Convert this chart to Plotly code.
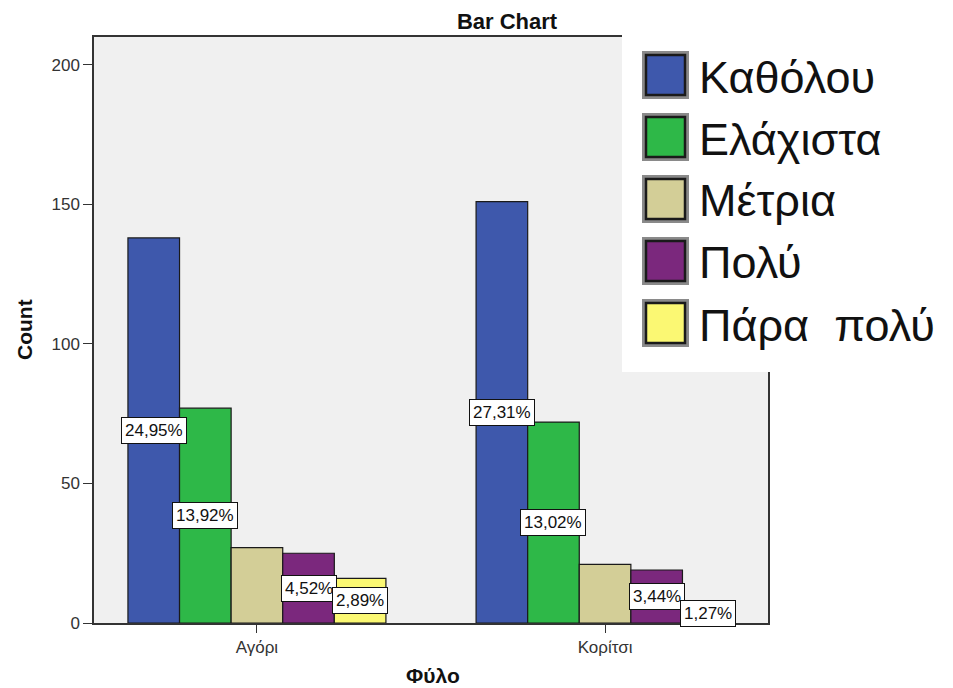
import plotly.graph_objects as go

# ---- data ----
categories = ["Αγόρι", "Κορίτσι"]
series_names = ["Καθόλου", "Ελάχιστα", "Μέτρια", "Πολύ", "Πάρα  πολύ"]
values_katholou = [138, 151]
values_elaxista = [77, 72]
values_metria = [27, 21]
values_poly = [25, 19]
values_para_poly = [16, 7]
label_shown = [True, True, False, True, True]
y_ticks = [0, 50, 100, 150, 200]

colors = ["#3E58AC", "#2EB848", "#D3CE97", "#7B287D", "#FBF873"]
series_values = [values_katholou, values_elaxista, values_metria, values_poly, values_para_poly]
total = sum(sum(v) for v in series_values)

PAGE_W, PAGE_H = 953, 688
OFF = 8  # browser body margin
W, H = PAGE_W - OFF, PAGE_H - OFF
# plot area in page pixels
PX0, PX1, PY0, PY1 = 94, 768, 37, 623
L, R, T, B = PX0 - OFF, PAGE_W - PX1, PY0 - OFF, PAGE_H - PY1
PW, PH = PX1 - PX0, PY1 - PY0
FONT = "Liberation Sans, Arial, sans-serif"
bargap = 0.259


def px_x(px):
    return (px - PX0) / PW


def px_y(py):
    return (PY1 - py) / PH


fig = go.Figure()
for name, vals, col in zip(series_names, series_values, colors):
    fig.add_trace(go.Bar(
        x=categories, y=vals, name=name,
        marker=dict(color=col, line=dict(color="#1a1a1a", width=1.2)),
        showlegend=False, hoverinfo="x+y+name",
    ))

annotations = []
slot = (1 - bargap) / len(series_names)
for j, (vals, show) in enumerate(zip(series_values, label_shown)):
    if not show:
        continue
    for i, v in enumerate(vals):
        txt = f"{v / total * 100:.2f}%".replace(".", ",")
        annotations.append(dict(
            x=i + (j - (len(series_names) - 1) / 2) * slot, y=v / 2,
            xref="x", yref="y", text=txt, showarrow=False,
            xanchor="center", yanchor="middle",
            font=dict(family=FONT, size=17, color="#111"),
            bgcolor="white", bordercolor="#111", borderwidth=1, borderpad=3,
        ))

# axis titles
annotations.append(dict(x=px_x(24), y=px_y(330), xref="paper", yref="paper", text="<b>Count</b>",
                        textangle=-90, showarrow=False, xanchor="center", yanchor="middle",
                        font=dict(family=FONT, size=21, color="#111")))
annotations.append(dict(x=px_x(433), y=px_y(676), xref="paper", yref="paper", text="<b>Φύλο</b>",
                        showarrow=False, xanchor="center", yanchor="middle",
                        font=dict(family=FONT, size=21, color="#111")))

shapes = []
# legend white box
shapes.append(dict(type="rect", xref="paper", yref="paper",
                   x0=px_x(622), x1=px_x(960), y0=px_y(372), y1=px_y(35),
                   fillcolor="white", line=dict(width=0), layer="above"))
row_centers = [75, 137, 199, 261, 323]
for name, col, cy in zip(series_names, colors, row_centers):
    shapes.append(dict(type="rect", xref="paper", yref="paper",
                       x0=px_x(642), x1=px_x(689), y0=px_y(cy + 24), y1=px_y(cy - 24),
                       fillcolor="#8a8a8a", line=dict(width=0), layer="above"))
    shapes.append(dict(type="rect", xref="paper", yref="paper",
                       x0=px_x(646), x1=px_x(685), y0=px_y(cy + 20), y1=px_y(cy - 20),
                       fillcolor=col, line=dict(color="#1a1a1a", width=2.5), layer="above"))
    annotations.append(dict(x=px_x(697), y=px_y(cy + 2), xref="paper", yref="paper",
                            text=name, showarrow=False, xanchor="left", yanchor="middle",
                            font=dict(family=FONT, size=45, color="#111")))

fig.update_layout(
    width=W, height=H,
    margin=dict(l=L, r=R, t=T, b=B),
    paper_bgcolor="white", plot_bgcolor="#F0F0F0",
    barmode="group", bargap=bargap, bargroupgap=0,
    title=dict(text="<b>Bar Chart</b>", x=(507 - OFF) / W, xref="container", xanchor="center",
               y=1 - (21 - OFF) / H, yref="container", yanchor="middle",
               font=dict(family=FONT, size=22, color="#111")),
    xaxis=dict(range=[-0.468, 1.468], showgrid=False, showline=True, linecolor="#333",
               linewidth=1.5, mirror=True, ticks="outside", ticklen=8, tickcolor="#333",
               tickfont=dict(family=FONT, size=17, color="#333"), zeroline=False),
    yaxis=dict(range=[0, 210], tickvals=y_ticks, showgrid=False, showline=True,
               linecolor="#333", linewidth=1.5, mirror=True, ticks="outside", ticklen=9,
               tickcolor="#333", tickfont=dict(family=FONT, size=17, color="#333"),
               zeroline=False),
    annotations=annotations, shapes=shapes,
)

fig.write_html("out.html")
